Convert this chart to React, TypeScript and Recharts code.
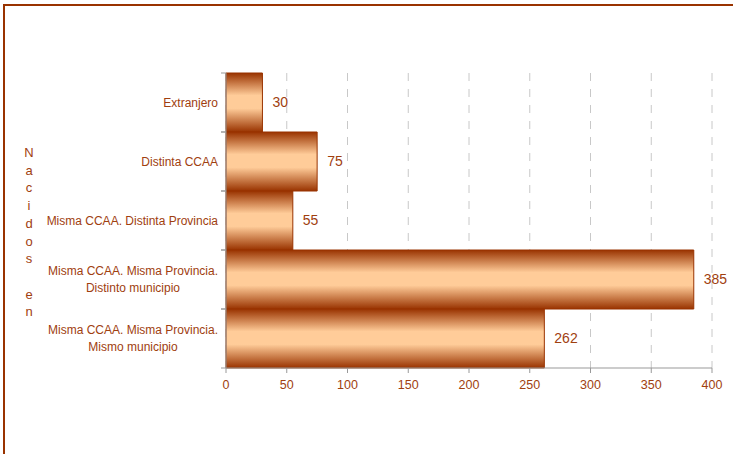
import React from "react";
import { BarChart, Bar, XAxis, YAxis, CartesianGrid, LabelList } from "recharts";

const categories = [
  "Extranjero",
  "Distinta CCAA",
  "Misma CCAA. Distinta Provincia",
  "Misma CCAA. Misma Provincia.\nDistinto municipio",
  "Misma CCAA. Misma Provincia.\nMismo municipio",
];
const values = [30, 75, 55, 385, 262];
const xTicks = [0, 50, 100, 150, 200, 250, 300, 350, 400];
const axisTitle = "Nacidos en";

const data = categories.map((name, i) => ({ name, value: values[i] }));

const W = 733;
const H = 454;
const X_AXIS_H = 30;
const MARGIN = { top: 73, right: 21, bottom: 56, left: 0 };
const Y_AXIS_W = 226;
const BROWN = "#993300";
const TEXT = "#A0400F";
const FONT = "'Liberation Sans', Arial, sans-serif";

let measureCtx: CanvasRenderingContext2D | null = null;
function measure(t: string, font: string) {
  if (!measureCtx) {
    const c = document.createElement("canvas");
    measureCtx = c.getContext("2d");
  }
  if (!measureCtx) return t.length * 6;
  measureCtx.font = font;
  return measureCtx.measureText(t).width;
}

const YTick = (props: any) => {
  const { y, payload } = props;
  const band = (H - MARGIN.top - MARGIN.bottom - X_AXIS_H) / categories.length;
  const axisX = MARGIN.left + Y_AXIS_W;
  const right = axisX - 8;
  const lines = String(payload.value).split("\n");
  const lh = 17;
  const widths = lines.map((l) => measure(l, `12px ${FONT}`));
  const maxW = Math.max(...widths);
  const centerX = right - maxW / 2;
  const startY = y - ((lines.length - 1) * lh) / 2;
  return (
    <g>
      <line x1={axisX - 5} x2={axisX} y1={y - band / 2} y2={y - band / 2} stroke="#999" />
      <line x1={axisX - 5} x2={axisX} y1={y + band / 2} y2={y + band / 2} stroke="#999" />
      {lines.map((l, i) => (
        <text
          key={i}
          x={lines.length > 1 ? centerX : right}
          y={startY + i * lh}
          dy="0.35em"
          textAnchor={lines.length > 1 ? "middle" : "end"}
          fontSize={12}
          fontFamily={FONT}
          fill={TEXT}
        >
          {l}
        </text>
      ))}
    </g>
  );
};

export default function App() {
  return (
    <div
      style={{
        position: "absolute",
        left: 0,
        top: 0,
        width: W,
        height: H,
        overflow: "hidden",
        background: "#fff",
      }}
    >
      <div
        style={{
          position: "absolute",
          left: 3,
          top: 4,
          width: 760,
          height: 480,
          border: `2px solid ${BROWN}`,
          boxSizing: "border-box",
        }}
      />
      <div style={{ position: "absolute", left: 0, top: 0 }}>
        <BarChart
          width={W}
          height={H}
          data={data}
          layout="vertical"
          margin={MARGIN}
          barCategoryGap={0}
        >
          <defs>
            <linearGradient id="barGrad" x1="0" y1="0" x2="0" y2="1">
              <stop offset="0%" stopColor={BROWN} />
              <stop offset="38%" stopColor="#FFCC99" />
              <stop offset="60%" stopColor="#FFCC99" />
              <stop offset="100%" stopColor={BROWN} />
            </linearGradient>
          </defs>
          <CartesianGrid
            horizontal={false}
            stroke="#C8C8C8"
            strokeDasharray="8 8"
          />
          <XAxis
            type="number"
            domain={[0, 400]}
            ticks={xTicks}
            interval={0}
            height={X_AXIS_H}
            stroke="#999"
            tickSize={5}
            tick={{ fill: TEXT, fontSize: 12.5, fontFamily: FONT }}
            tickMargin={7}
          />
          <YAxis
            type="category"
            dataKey="name"
            width={Y_AXIS_W}
            stroke="#999"
            tickLine={false}
            interval={0}
            tick={<YTick />}
          />
          <Bar
            dataKey="value"
            fill="url(#barGrad)"
            stroke={BROWN}
            strokeWidth={1}
            isAnimationActive={false}
          >
            <LabelList
              dataKey="value"
              position="right"
              offset={10}
              fill={TEXT}
              fontSize={14}
              fontFamily={FONT}
            />
          </Bar>
        </BarChart>
      </div>
      <svg
        width={60}
        height={H}
        style={{ position: "absolute", left: 0, top: 0 }}
      >
        <text
          fontSize={13}
          fontFamily={FONT}
          fill={TEXT}
          textAnchor="middle"
        >
          {axisTitle.split("").map((ch, i) => (
            <tspan key={i} x={29} y={157 + i * 17.7}>
              {ch === " " ? "\u00a0" : ch}
            </tspan>
          ))}
        </text>
      </svg>
    </div>
  );
}
